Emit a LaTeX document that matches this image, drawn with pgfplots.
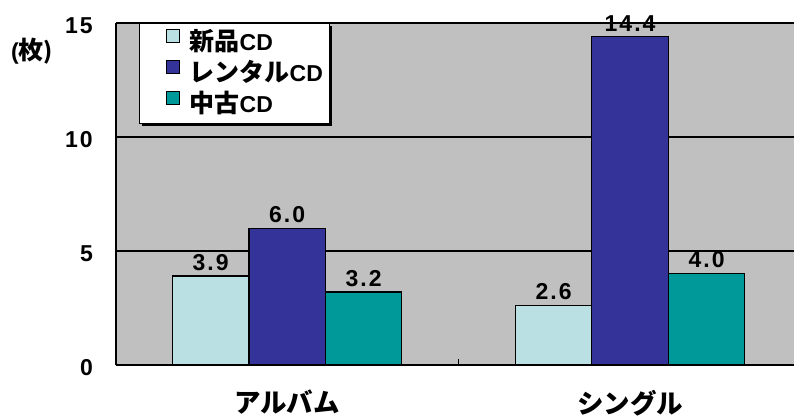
\documentclass[border=0pt]{standalone}
\usepackage{fontspec}
\usepackage{pgfplots}
\pgfplotsset{compat=1.18}
\setmainfont{Liberation Sans}
\newfontfamily\spaced{Liberation Sans}[LetterSpace=9]
\newfontfamily\cjk{Noto Sans CJK JP}
\definecolor{newcd}{HTML}{BBE0E3}
\definecolor{rentcd}{HTML}{333399}
\definecolor{usedcd}{HTML}{009999}
\definecolor{plotbg}{HTML}{C0C0C0}
\newcommand{\numfont}{\fontsize{23}{27}\selectfont\bfseries}
\newcommand{\valfont}{\fontsize{23}{27}\selectfont\bfseries\spaced}
\newcommand{\jpfont}{\fontsize{25}{29}\selectfont\bfseries\cjk}
\newcommand{\catfont}{\fontsize{26.5}{31}\selectfont\bfseries\cjk}

\begin{document}
\begin{tikzpicture}
\useasboundingbox (-116pt,-52pt) rectangle (678pt,365pt);
\begin{axis}[
  scale only axis, width=678pt, height=342pt,
  xmin=-0.499, xmax=1.478, ymin=0, ymax=15,
  ybar, bar width=0.223,
  axis x line*=bottom, axis y line*=left,
  axis line style={black, line width=1.5pt},
  axis background/.style={fill=plotbg},
  ytick={0,5,10,15},
  ymajorgrids, grid style={black, line width=1.3pt},
  major tick length=0pt,
  xtick={0,1},
  xticklabels={アルバム,シングル},
  extra x ticks={0.5}, extra x tick labels={},
  extra x tick style={major tick length=6pt, tick align=inside,
    tick style={black, line width=1pt}, xmajorgrids=false},
  /pgf/number format/assume math mode=true,
  yticklabel style={font=\valfont, anchor=east, inner sep=0pt, xshift=-23pt, yshift=-3pt},
  xticklabel style={font=\catfont, anchor=north, inner sep=0pt, yshift=-25pt},
  nodes near coords={\pgfmathprintnumber[fixed,fixed zerofill,precision=1]{\pgfplotspointmeta}},
  every node near coord/.append style={font=\valfont, inner sep=0pt, anchor=south, yshift=5pt, black},
  legend style={at={(23pt,342pt)}, anchor=north west, name=lg,
    draw=black, line width=0.8pt, fill=white,
    inner xsep=6pt, inner ysep=6pt, row sep=5pt, column sep=0pt,
    nodes={inner sep=0pt, text height=20pt, text depth=5pt}},
  legend cell align=left,
  clip=false,
]
\pgfplotsset{sq legend/.style={legend image code/.code={%
  \path (-20pt,0pt);
  \draw[##1, line width=1pt, draw=black] (0pt,0pt) rectangle (13pt,13pt);
  \path (23pt,0pt);}}}
\addplot[bar shift=-0.223, fill=newcd, draw=black, line width=1.3pt, sq legend]
  coordinates {(0,3.9) (1,2.6)};
\addplot[bar shift=0, fill=rentcd, draw=black, line width=1.3pt, sq legend]
  coordinates {(0,6.0) (1,14.4)};
\addplot[bar shift=0.223, fill=usedcd, draw=black, line width=1.3pt, sq legend]
  coordinates {(0,3.2) (1,4.0)};
\legend{{\jpfont 新品}{\numfont CD},{\jpfont レンタル}{\numfont CD},{\jpfont 中古}{\numfont CD}}
\end{axis}
% legend shadow along the lower and right edges
\draw[black, line width=2pt]
  ([xshift=3pt,yshift=-1.4pt]lg.south west) -- ([xshift=1.4pt,yshift=-1.4pt]lg.south east)
  -- ([xshift=1.4pt,yshift=-3pt]lg.north east);
\node[anchor=center, inner sep=0pt] at (-84pt,314pt) {\numfont (\jpfont 枚\numfont )};
\end{tikzpicture}
\end{document}
